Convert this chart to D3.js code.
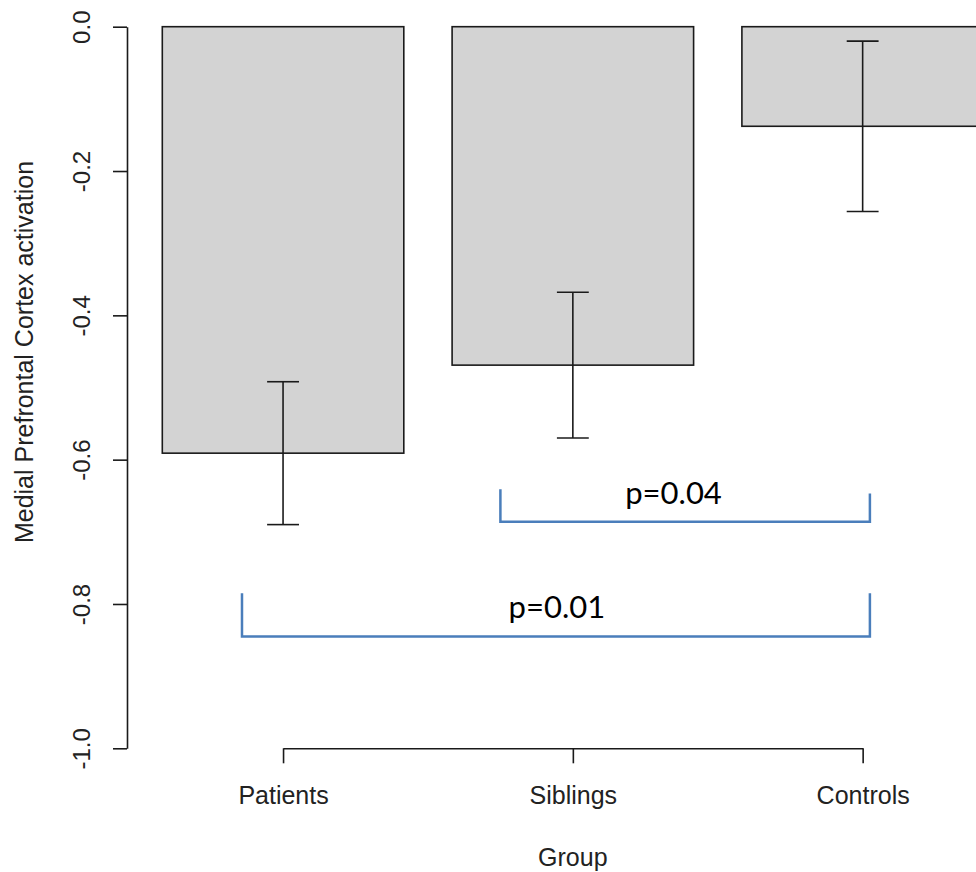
<!DOCTYPE html>
<html>
<head>
<meta charset="utf-8">
<script src="https://cdn.jsdelivr.net/npm/d3@7"></script>
<style>
  html, body { margin: 0; padding: 0; background: #ffffff; }
  svg { display: block; }
  .axis text { font-family: "Liberation Sans", Arial, sans-serif; fill: #222222; }
</style>
</head>
<body>
<svg id="chart" width="976" height="872"></svg>
<script>
// Group means of medial prefrontal cortex activation and their standard errors
const groups = ["Patients", "Siblings", "Controls"];
const means = [-0.591, -0.469, -0.138];
const stdErrors = [0.099, 0.101, 0.118];
const yTicks = [0, -0.2, -0.4, -0.6, -0.8, -1.0];

// Pairwise comparisons: p-value text and bracket level
const comparisons = [
  { label: "p=0.04", level: -0.686 },
  { label: "p=0.01", level: -0.845 }
];

const svg = d3.select("#chart");

// barplot-style user coordinates: bar width 1, spacing 0.2
const barWidth = 1, barSpace = 0.2;
const barLeft = i => barSpace + i * (barWidth + barSpace);
const barCenter = i => barLeft(i) + barWidth / 2;

const x = d3.scaleLinear().domain([0, 1]).range([114, 355.5]);
const y = d3.scaleLinear().domain([0, -1]).range([26.7, 748.3]);

const axisColor = "#1a1a1a";

// Bars
svg.append("g").selectAll("rect")
  .data(means)
  .join("rect")
  .attr("x", (d, i) => x(barLeft(i)))
  .attr("y", d => y(Math.max(0, d)))
  .attr("width", x(barWidth) - x(0))
  .attr("height", d => Math.abs(y(d) - y(0)))
  .attr("fill", "#d3d3d3")
  .attr("stroke", axisColor)
  .attr("stroke-width", 1.6);

// Error bars (mean ± SE) with caps
const capHalf = 0.066;
const eb = svg.append("g").attr("stroke", axisColor).attr("stroke-width", 1.6).attr("fill", "none");
means.forEach((m, i) => {
  const cx = x(barCenter(i));
  const lo = m - stdErrors[i], hi = m + stdErrors[i];
  eb.append("line").attr("x1", cx).attr("x2", cx).attr("y1", y(hi)).attr("y2", y(lo));
  [hi, lo].forEach(v => {
    eb.append("line")
      .attr("x1", x(barCenter(i) - capHalf)).attr("x2", x(barCenter(i) + capHalf))
      .attr("y1", y(v)).attr("y2", y(v));
  });
});

// Y axis with rotated tick labels
const yAxisX = 127;
const yAxis = svg.append("g")
  .attr("class", "axis")
  .attr("transform", `translate(${yAxisX},0)`)
  .call(d3.axisLeft(y).tickValues(yTicks).tickSize(14).tickSizeOuter(0)
    .tickFormat(d => d.toFixed(1)));
yAxis.select(".domain").attr("stroke", axisColor).attr("stroke-width", 1.6);
yAxis.selectAll(".tick line").attr("stroke", axisColor).attr("stroke-width", 1.6);
yAxis.selectAll(".tick text")
  .attr("transform", "rotate(-90)")
  .attr("text-anchor", "middle")
  .attr("x", 0).attr("y", -37).attr("dy", 0)
  .attr("font-size", 24);

// X axis spanning the bar centres
const xCat = d3.scaleOrdinal().domain(groups).range(groups.map((g, i) => x(barCenter(i))));
const xAxisY = 748.3;
const xAxis = svg.append("g")
  .attr("class", "axis")
  .attr("transform", `translate(0,${xAxisY})`)
  .call(d3.axisBottom(xCat).tickSize(15).tickSizeOuter(0));
xAxis.select(".domain").attr("stroke", axisColor).attr("stroke-width", 1.6);
xAxis.selectAll(".tick line").attr("stroke", axisColor).attr("stroke-width", 1.6);
xAxis.selectAll(".tick text")
  .attr("y", 56).attr("dy", 0)
  .attr("font-size", 25);

// Axis titles
svg.append("text")
  .attr("transform", `translate(33,352) rotate(-90)`)
  .attr("text-anchor", "middle")
  .attr("font-family", "'Liberation Sans', Arial, sans-serif")
  .attr("font-size", 25)
  .attr("fill", "#222222")
  .text("Medial Prefrontal Cortex activation");

svg.append("text")
  .attr("x", xCat("Siblings"))
  .attr("y", 866)
  .attr("text-anchor", "middle")
  .attr("font-family", "'Liberation Sans', Arial, sans-serif")
  .attr("font-size", 25)
  .attr("fill", "#222222")
  .text("Group");

// Significance brackets
const bracketGeom = [
  { from: 1.6, to: 3.13, legLeft: 0.045, legRight: 0.039, textX: 2.317, textDy: -0.025 },
  { from: 0.53, to: 3.13, legLeft: 0.06, legRight: 0.06, textX: 1.834, textDy: -0.026 }
];
const br = svg.append("g");
comparisons.forEach((c, k) => {
  const g = bracketGeom[k];
  const path = d3.path();
  path.moveTo(x(g.from), y(c.level + g.legLeft));
  path.lineTo(x(g.from), y(c.level));
  path.lineTo(x(g.to), y(c.level));
  path.lineTo(x(g.to), y(c.level + g.legRight));
  br.append("path")
    .attr("d", path.toString())
    .attr("fill", "none")
    .attr("stroke", "#4a7ebb")
    .attr("stroke-width", 2.5);
  br.append("text")
    .attr("x", x(g.textX))
    .attr("y", y(c.level - g.textDy))
    .attr("text-anchor", "middle")
    .attr("font-family", "Lato, 'Open Sans', sans-serif")
    .attr("font-size", 31)
    .attr("fill", "#000000")
    .text(c.label);
});
</script>
</body>
</html>
